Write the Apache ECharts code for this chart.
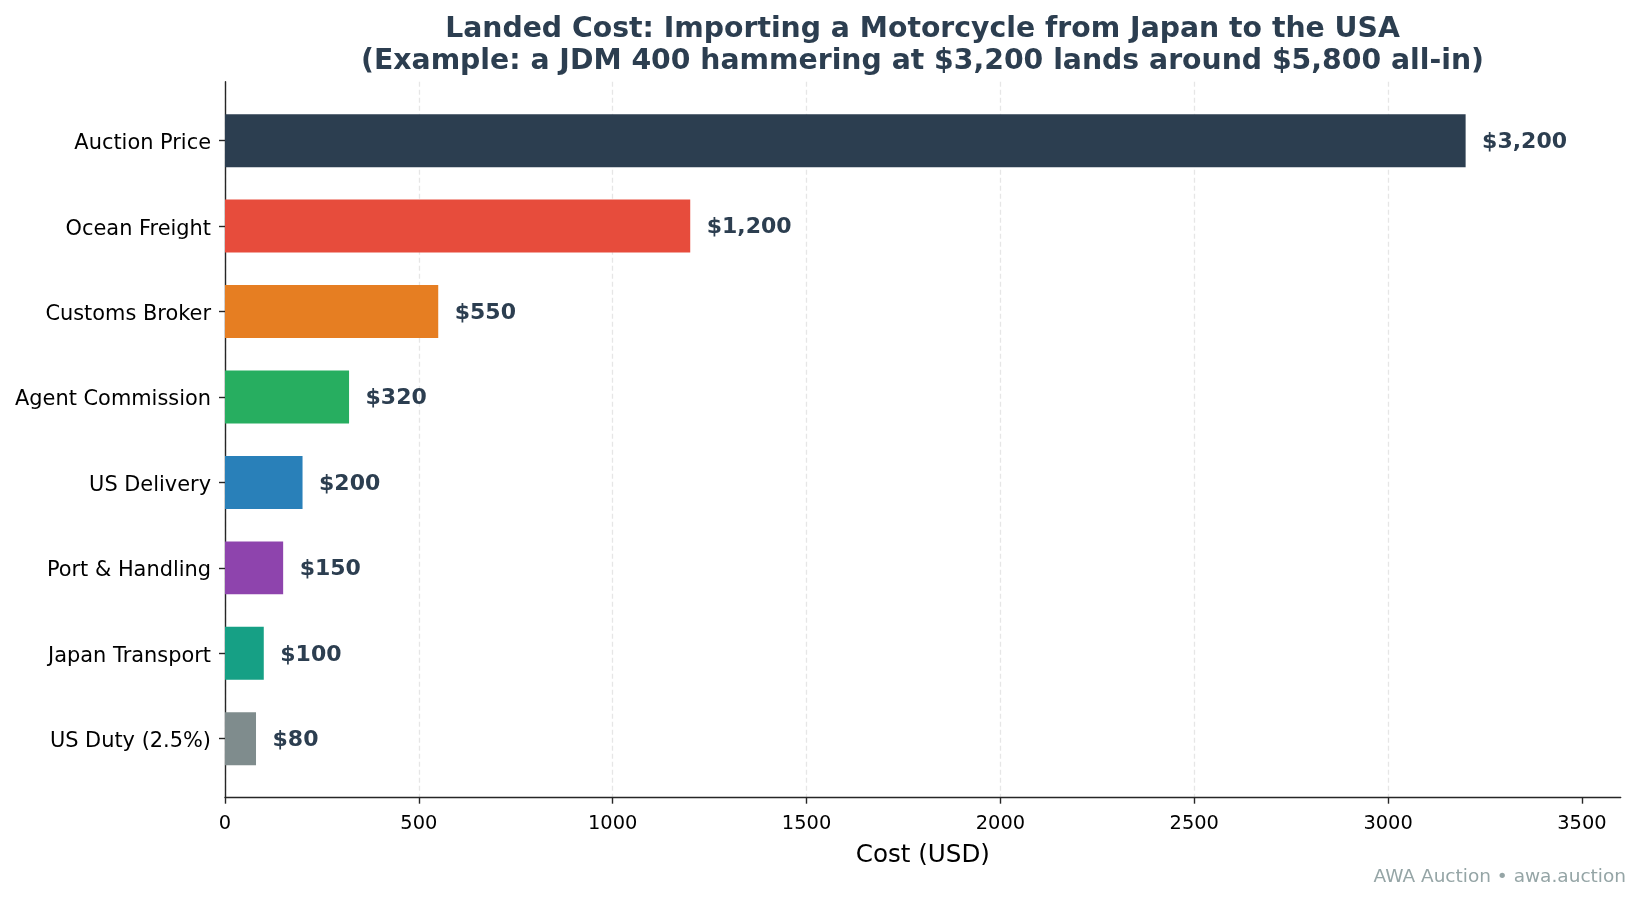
<!DOCTYPE html>
<html>
<head>
<meta charset="utf-8">
<title>Landed Cost</title>
<script src="https://cdn.jsdelivr.net/npm/echarts@6/dist/echarts.min.js"></script>
<style>
  html, body { margin: 0; padding: 0; background: #fff; }
  #chart { width: 1641px; height: 901px; }
</style>
</head>
<body>
<div id="chart"></div>
<script>
// top to bottom, as shown
const categories = [
  'Auction Price',
  'Ocean Freight',
  'Customs Broker',
  'Agent Commission',
  'US Delivery',
  'Port & Handling',
  'Japan Transport',
  'US Duty (2.5%)',
];
const costs = [3200, 1200, 550, 320, 200, 150, 100, 80];
const barColors = ['#2c3e50', '#e74c3c', '#e67e22', '#27ae60', '#2980b9', '#8e44ad', '#16a085', '#7f8c8d'];
const xTicks = [0, 500, 1000, 1500, 2000, 2500, 3000, 3500];

const FONT = 'DejaVu Sans';
const barHeight = 0.62;

const chart = echarts.init(document.getElementById('chart'), null, { renderer: 'canvas' });

const fmtUsd = (v) => '$' + v.toLocaleString('en-US');

chart.setOption({
  backgroundColor: '#ffffff',
  animation: false,
  title: [
    {
      text: 'Landed Cost: Importing a Motorcycle from Japan to the USA\n(Example: a JDM 400 hammering at $3,200 lands around $5,800 all-in)',
      left: 922.5,
      top: 14,
      padding: 0,
      textAlign: 'center',
      textStyle: {
        fontFamily: FONT,
        fontSize: 28.3,
        fontWeight: 'bold',
        color: '#2c3e50',
        lineHeight: 31.6,
      },
    },
    {
      text: 'AWA Auction • awa.auction',
      right: 15,
      top: 867.5,
      padding: 0,
      textStyle: {
        fontFamily: FONT,
        fontSize: 18.5,
        fontWeight: 'normal',
        color: '#95a5a6',
        lineHeight: 20,
      },
    },
  ],
  grid: { left: 225, right: 20.3, top: 81.7, bottom: 103.3, containLabel: false },
  xAxis: {
    type: 'value',
    min: 0,
    max: 3600,
    interval: 500,
    name: 'Cost (USD)',
    nameLocation: 'middle',
    nameGap: 45.5,
    nameTextStyle: { fontFamily: FONT, fontSize: 24.6, color: '#000' },
    axisLine: { show: true, onZero: false, lineStyle: { color: '#262626', width: 1.4 } },
    axisTick: { show: true, length: 6, customValues: xTicks, lineStyle: { color: '#262626', width: 1.4 } },
    axisLabel: {
      customValues: xTicks,
      formatter: (v) => String(v),
      margin: 16.5,
      fontFamily: FONT,
      fontSize: 19.4,
      color: '#000',
    },
    splitLine: {
      show: true,
      showMaxLine: false,
      lineStyle: { color: '#e6e6e6', width: 1.3, type: [5, 3] },
    },
  },
  yAxis: {
    type: 'value',
    inverse: true,
    min: -0.69,
    max: 7.69,
    axisLine: { show: true, onZero: false, lineStyle: { color: '#262626', width: 1.4 } },
    axisTick: {
      show: true,
      length: 6,
      customValues: categories.map((c, i) => i),
      lineStyle: { color: '#262626', width: 1.4 },
    },
    axisLabel: {
      customValues: categories.map((c, i) => i),
      formatter: (v) => '{c|' + (categories[Math.round(v)] || '') + '}',
      margin: 14,
      rich: {
        c: {
          fontFamily: FONT,
          fontSize: 20.9,
          color: '#000',
          padding: [6, 0, 0, 0],
        },
      },
    },
    splitLine: { show: false },
  },
  series: [
    {
      type: 'custom',
      encode: { x: 0, y: 1 },
      data: costs.map((v, i) => [v, i]),
      renderItem: (params, api) => {
        const i = api.value(1);
        const v = api.value(0);
        const start = api.coord([0, i]);
        const end = api.coord([v, i]);
        const h = api.size([0, barHeight])[1];
        return {
          type: 'group',
          children: [
            {
              type: 'rect',
              shape: { x: start[0], y: start[1] - h / 2, width: end[0] - start[0], height: h },
              style: { fill: barColors[i] },
            },
            {
              type: 'text',
              x: end[0] + 16.5,
              y: end[1] + 1.5,
              style: {
                text: fmtUsd(v),
                fill: '#2c3e50',
                font: 'bold 22px "DejaVu Sans"',
                align: 'left',
                verticalAlign: 'middle',
              },
            },
          ],
        };
      },
    },
  ],
});

window.addEventListener('resize', () => chart.resize());
</script>
</body>
</html>
